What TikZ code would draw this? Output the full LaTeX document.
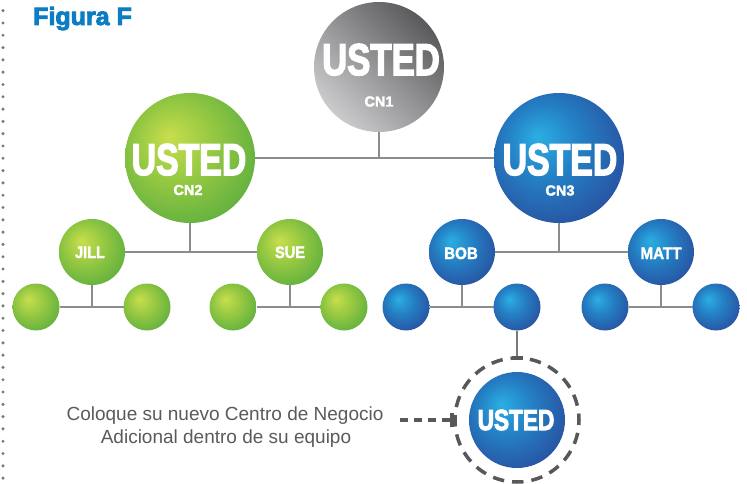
\documentclass[tikz,border=0pt]{standalone}
\usepackage{fontspec}
\setmainfont{Liberation Sans}
\newfontfamily\heavy[FakeBold=3.5]{Liberation Sans Bold}
\newfontfamily\semiheavy[FakeBold=2]{Liberation Sans Bold}
\usetikzlibrary{backgrounds}
\definecolor{glight}{HTML}{C8DE4C}
\definecolor{gmid}{HTML}{95C842}
\definecolor{gdark}{HTML}{4AA63E}
\definecolor{blight}{HTML}{2BAEE4}
\definecolor{bmid}{HTML}{2480C4}
\definecolor{bdark}{HTML}{2A3F93}
\definecolor{graylight}{HTML}{CBCBCD}
\definecolor{graydark}{HTML}{5A5A5C}
\definecolor{linegray}{HTML}{8C8C8E}
\definecolor{dashgray}{HTML}{58585A}
\definecolor{figblue}{HTML}{0B7DC2}
\definecolor{txtgray}{HTML}{5A5A5C}
\definecolor{dotgray}{HTML}{7A7A7C}
\pgfdeclareradialshading{greenball}{\pgfpoint{-8.5bp}{8.5bp}}{color(0bp)=(glight); color(15bp)=(gmid); color(38bp)=(gdark); color(50bp)=(gdark)}
\pgfdeclareradialshading{blueball}{\pgfpoint{-8.5bp}{8.5bp}}{color(0bp)=(blight); color(14bp)=(bmid); color(38bp)=(bdark); color(50bp)=(bdark)}
\newcommand\squeeze[2]{\scalebox{#1}[1]{#2}}
\tikzset{
  gball/.style={circle, inner sep=0pt, outer sep=0pt, shading=greenball},
  bball/.style={circle, inner sep=0pt, outer sep=0pt, shading=blueball},
  bigball/.style={minimum size=130pt},
  midball/.style={minimum size=66pt},
  smallball/.style={minimum size=47pt},
  bigtxt/.style={text=white, inner sep=0pt, anchor=base, font=\heavy\fontsize{44.5}{44.5}\selectfont},
  youtxt/.style={text=white, inner sep=0pt, anchor=base, font=\heavy\fontsize{29}{29}\selectfont},
  cntxt/.style={text=white, inner sep=0pt, anchor=base, font=\semiheavy\fontsize{14.5}{14.5}\selectfont},
  nametxt/.style={text=white, inner sep=0pt, anchor=base, font=\semiheavy\fontsize{16.5}{16.5}\selectfont},
  conn/.style={draw=linegray, line width=2pt},
  dashconn/.style={draw=dashgray, line width=3.5pt, dash pattern=on 8pt off 6pt},
  tick/.style={draw=dashgray, line width=3.5pt},
  notetxt/.style={text=txtgray, inner sep=0pt, anchor=base, font=\fontsize{19}{19}\selectfont},
}
\begin{document}
\begin{tikzpicture}[x=1pt, y=-1pt]
\useasboundingbox (0,0) rectangle (747,484);
% left dotted rule
\foreach \i in {0,...,38} \fill[dotgray] (3, 10.7+12.3*\i) circle (1.7pt);
% title
\node[anchor=base west, inner sep=0pt, text=figblue, font=\heavy\fontsize{25}{25}\selectfont] (title) at (33,25) {Figura F};
% level 1
\node[circle, inner sep=0pt, outer sep=0pt, bigball, top color=graydark, bottom color=graylight, shading angle=-45] (cn1) at (379,67) {};
\node[gball, bigball] (cn2) at (190,158) {};
\node[bball, bigball] (cn3) at (559,158) {};
% level 2
\node[gball, midball] (jill) at (92,252) {};
\node[gball, midball] (sue) at (290,252) {};
\node[bball, midball] (bob) at (462,252) {};
\node[bball, midball] (matt) at (661,252) {};
% level 3
\node[gball, smallball] (g1) at (36,307) {};
\node[gball, smallball] (g2) at (147,307) {};
\node[gball, smallball] (g3) at (233,307) {};
\node[gball, smallball] (g4) at (344,307) {};
\node[bball, smallball] (b1) at (406,307) {};
\node[bball, smallball] (b2) at (517,307) {};
\node[bball, smallball] (b3) at (605,307) {};
\node[bball, smallball] (b4) at (716,307) {};
% new centre
\node[bball, minimum size=96pt] (you) at (517,420) {};
\node[circle, draw=dashgray, line width=3.5pt, dash pattern=on 11.5pt off 7.98pt, dash phase=5pt, minimum size=124pt, inner sep=0pt, outer sep=0pt] (ring) at (517,420) {};
% texts
\node[bigtxt] (t1) at (381,75) {\squeeze{0.78}{USTED}};
\node[cntxt] (l1) at (379,106.5) {CN1};
\node[bigtxt] (t2) at (189,175) {\squeeze{0.76}{USTED}};
\node[cntxt] (l2) at (188,195) {CN2};
\node[bigtxt] (t3) at (560,175) {\squeeze{0.76}{USTED}};
\node[cntxt] (l3) at (560,195.5) {CN3};
\node[nametxt] (tj) at (90,258) {\squeeze{0.88}{JILL}};
\node[nametxt] (ts) at (290,258) {\squeeze{0.88}{SUE}};
\node[nametxt] (tb) at (461,259) {\squeeze{0.92}{BOB}};
\node[nametxt] (tm) at (661,259) {\squeeze{0.92}{MATT}};
\node[youtxt] (ty) at (516,430) {\squeeze{0.78}{USTED}};
\node[notetxt] (n1) at (225,420) {Coloque su nuevo Centro de Negocio};
\node[notetxt] (n2) at (226,443) {Adicional dentro de su equipo};
\coordinate (dstart) at (400,420);
% connectors
\begin{scope}[on background layer]
  \draw[conn] (cn1) -- (cn1 |- cn2);
  \draw[conn] (cn2) -- (cn3);
  \draw[conn] (cn2) -- (cn2 |- jill);
  \draw[conn] (jill) -- (sue);
  \draw[conn] (cn3) -- (cn3 |- bob);
  \draw[conn] (bob) -- (matt);
  \draw[conn] (jill) -- (jill |- g1);
  \draw[conn] (g1) -- (g2);
  \draw[conn] (sue) -- (sue |- g3);
  \draw[conn] (g3) -- (g4);
  \draw[conn] (bob) -- (bob |- b1);
  \draw[conn] (b1) -- (b2);
  \draw[conn] (matt) -- (matt |- b3);
  \draw[conn] (b3) -- (b4);
  \draw[draw=dashgray!80, line width=2pt] (b2) -- (ring.north);
\end{scope}
\draw[tick] ([xshift=-5.5pt]ring.north) -- ([xshift=5.5pt]ring.north);
\draw[dashconn] (dstart) -- ([xshift=-3pt]ring.west);
\draw[tick] ([xshift=-3pt,yshift=-7pt]ring.west) -- ([xshift=-3pt,yshift=7pt]ring.west);
\end{tikzpicture}
\end{document}
